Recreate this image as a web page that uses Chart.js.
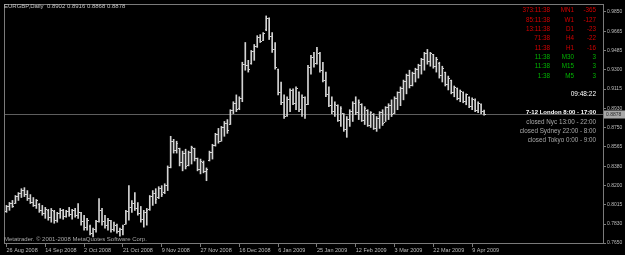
<!DOCTYPE html>
<html><head><meta charset="utf-8">
<script src="https://cdn.jsdelivr.net/npm/chart.js@4.4.1/dist/chart.umd.min.js"></script>
<style>html,body{margin:0;padding:0;background:#000;overflow:hidden}canvas{display:block}</style>
</head><body>
<canvas id="c" width="625" height="255"></canvas>
<script>
const symbolTitle = 'EURGBP,Daily  0.8902 0.8916 0.8868 0.8878';
const copyrightText = 'Metatrader. \u00a9 2001-2008 MetaQuotes Software Corp.';
const xTickLabels = ['26 Aug 2008','14 Sep 2008','2 Oct 2008','21 Oct 2008','9 Nov 2008','27 Nov 2008','16 Dec 2008','6 Jan 2009','25 Jan 2009','12 Feb 2009','3 Mar 2009','22 Mar 2009','9 Apr 2009'];
const barsPerXTick = 13;
const yTickValues = [0.9850,0.9665,0.9485,0.9300,0.9115,0.8930,0.8750,0.8565,0.8380,0.8200,0.8015,0.7830,0.7650];

const highs = [
0.8008,0.8036,0.8055,0.8102,0.8130,0.8167,0.8177,0.8149,0.8111,0.8083,
0.8064,0.8026,0.8008,0.7989,0.7970,0.7979,0.7961,0.7942,0.7979,0.7970,
0.7961,0.7989,0.7970,0.7979,0.8026,0.7942,0.7914,0.7885,0.7820,0.7791,
0.7867,0.8073,0.7979,0.7914,0.7885,0.7867,0.7848,0.7829,0.7791,0.7820,
0.7961,0.8196,0.8055,0.8130,0.8036,0.7998,0.7961,0.7979,0.8102,0.8149,
0.8167,0.8186,0.8196,0.8214,0.8384,0.8666,0.8637,0.8619,0.8553,0.8525,
0.8543,0.8525,0.8572,0.8553,0.8459,0.8449,0.8431,0.8365,0.8525,0.8590,
0.8694,0.8741,0.8760,0.8807,0.8825,0.8919,0.8995,0.9060,0.9042,0.9371,
0.9559,0.9389,0.9483,0.9540,0.9624,0.9634,0.9653,0.9812,0.9794,0.9653,
0.9559,0.9305,0.9183,0.9060,0.9042,0.9117,0.9117,0.9136,0.9089,0.9060,
0.9042,0.9342,0.9436,0.9465,0.9512,0.9465,0.9371,0.9277,0.9136,0.9042,
0.8995,0.8966,0.8948,0.8882,0.8854,0.8919,0.8995,0.9042,0.9013,0.8976,
0.8948,0.8919,0.8901,0.8882,0.8854,0.8901,0.8919,0.8948,0.8976,0.9013,
0.9042,0.9089,0.9136,0.9201,0.9258,0.9295,0.9277,0.9314,0.9352,0.9408,
0.9465,0.9493,0.9465,0.9446,0.9418,0.9371,0.9333,0.9277,0.9239,0.9201,
0.9145,0.9126,0.9107,0.9089,0.9070,0.9042,0.9032,0.9023,0.8995,0.8976,
0.8916];
const lows = [
0.7942,0.7961,0.7989,0.8026,0.8055,0.8083,0.8092,0.8055,0.8026,0.7998,
0.7979,0.7942,0.7914,0.7885,0.7867,0.7848,0.7838,0.7848,0.7885,0.7876,
0.7895,0.7904,0.7876,0.7895,0.7885,0.7820,0.7773,0.7773,0.7726,0.7707,
0.7754,0.7848,0.7820,0.7791,0.7773,0.7754,0.7763,0.7744,0.7716,0.7726,
0.7829,0.7867,0.7942,0.7961,0.7914,0.7848,0.7801,0.7820,0.7961,0.8008,
0.8026,0.8073,0.8092,0.8120,0.8149,0.8365,0.8506,0.8506,0.8384,0.8337,
0.8355,0.8384,0.8402,0.8431,0.8337,0.8308,0.8318,0.8243,0.8431,0.8449,
0.8572,0.8600,0.8619,0.8666,0.8694,0.8778,0.8882,0.8901,0.8919,0.8995,
0.9295,0.9277,0.9352,0.9389,0.9512,0.9559,0.9577,0.9671,0.9587,0.9465,
0.9305,0.9060,0.8966,0.8835,0.8854,0.8901,0.8966,0.8919,0.8901,0.8854,
0.8835,0.8966,0.9258,0.9324,0.9352,0.9277,0.9183,0.9042,0.8948,0.8882,
0.8854,0.8807,0.8760,0.8713,0.8656,0.8760,0.8807,0.8872,0.8825,0.8807,
0.8778,0.8760,0.8750,0.8731,0.8713,0.8741,0.8769,0.8807,0.8825,0.8854,
0.8882,0.8919,0.8957,0.9013,0.9070,0.9126,0.9145,0.9183,0.9220,0.9258,
0.9295,0.9352,0.9333,0.9314,0.9277,0.9220,0.9183,0.9145,0.9107,0.9070,
0.9042,0.9013,0.8995,0.8985,0.8966,0.8938,0.8919,0.8901,0.8891,0.8882,
0.8868];
const opens = [
0.7950,0.7995,0.8025,0.8030,0.8095,0.8120,0.8150,0.8110,0.8070,0.8040,
0.8010,0.8020,0.7960,0.7930,0.7960,0.7890,0.7950,0.7860,0.7930,0.7960,
0.7900,0.7950,0.7920,0.7960,0.7910,0.7940,0.7850,0.7800,0.7810,0.7740,
0.7780,0.7850,0.7960,0.7850,0.7820,0.7860,0.7780,0.7820,0.7760,0.7780,
0.7830,0.7950,0.7990,0.8030,0.7980,0.7930,0.7870,0.7940,0.7965,0.8090,
0.8120,0.8080,0.8170,0.8130,0.8200,0.8370,0.8620,0.8530,0.8550,0.8420,
0.8500,0.8390,0.8510,0.8550,0.8450,0.8350,0.8420,0.8330,0.8440,0.8510,
0.8580,0.8680,0.8620,0.8750,0.8790,0.8780,0.8910,0.8980,0.8930,0.9030,
0.9350,0.9340,0.9360,0.9470,0.9520,0.9610,0.9580,0.9680,0.9790,0.9620,
0.9490,0.9300,0.9080,0.8990,0.8860,0.9020,0.9100,0.8980,0.9080,0.8920,
0.9040,0.8970,0.9320,0.9420,0.9360,0.9450,0.9290,0.9200,0.9060,0.8960,
0.8900,0.8960,0.8820,0.8880,0.8730,0.8830,0.8900,0.8980,0.8890,0.8970,
0.8820,0.8910,0.8770,0.8870,0.8740,0.8840,0.8890,0.8800,0.8940,0.8960,
0.8880,0.9030,0.9080,0.9120,0.9190,0.9240,0.9150,0.9260,0.9300,0.9340,
0.9400,0.9450,0.9380,0.9440,0.9330,0.9360,0.9240,0.9270,0.9160,0.9200,
0.9080,0.9120,0.9030,0.9080,0.9000,0.9040,0.8950,0.9010,0.8910,0.8970,
0.8902];
const closes = [
0.7995,0.8025,0.8000,0.8095,0.8120,0.8150,0.8110,0.8070,0.8040,0.8010,
0.8050,0.7960,0.7930,0.7970,0.7890,0.7960,0.7860,0.7930,0.7960,0.7900,
0.7950,0.7920,0.7960,0.7910,0.7940,0.7850,0.7800,0.7860,0.7740,0.7780,
0.7850,0.7960,0.7850,0.7820,0.7860,0.7780,0.7830,0.7760,0.7780,0.7810,
0.7950,0.7990,0.8030,0.7980,0.7930,0.7870,0.7940,0.7960,0.8090,0.8120,
0.8060,0.8170,0.8110,0.8200,0.8370,0.8620,0.8530,0.8600,0.8420,0.8500,
0.8380,0.8510,0.8560,0.8450,0.8350,0.8430,0.8330,0.8350,0.8510,0.8580,
0.8680,0.8620,0.8750,0.8790,0.8720,0.8910,0.8980,0.8920,0.9030,0.9350,
0.9340,0.9300,0.9470,0.9520,0.9610,0.9570,0.9640,0.9790,0.9620,0.9490,
0.9320,0.9080,0.8990,0.8850,0.9020,0.9100,0.8980,0.9120,0.8920,0.9040,
0.8860,0.9320,0.9420,0.9350,0.9490,0.9290,0.9200,0.9060,0.8960,0.8900,
0.8970,0.8820,0.8930,0.8730,0.8830,0.8900,0.8980,0.8890,0.8990,0.8820,
0.8930,0.8770,0.8890,0.8740,0.8840,0.8890,0.8790,0.8940,0.8960,0.8870,
0.9030,0.9080,0.9120,0.9190,0.9240,0.9150,0.9260,0.9300,0.9340,0.9400,
0.9450,0.9380,0.9450,0.9330,0.9400,0.9240,0.9310,0.9160,0.9220,0.9080,
0.9130,0.9030,0.9090,0.9000,0.9060,0.8950,0.9020,0.8910,0.8980,0.8900,
0.8878];

const timerLeft  = ['373:11:38','85:11:38','13:11:38','71:38','11:38','11:38','11:38','1:38'];
const timerFrame = ['MN1','W1','D1','H4','H1','M30','M15','M5'];
const timerPips  = ['-365','-127','-23','-22','-16','3','3','3'];
const clockText = '09:48:22';
const sessionLines = ['7-12 London 8:00 - 17:00','closed Nyc 13:00 - 22:00','closed Sydney 22:00 - 8:00','closed Tokyo 0:00 - 9:00'];

const BAR = '#d4d4d4';
const FONT = '"Liberation Sans", Arial, sans-serif';
const lastIdx = closes.length - 1;
const idx = highs.map((_, i) => i);

function tickImg(side) {
  const c = document.createElement('canvas');
  c.width = 3; c.height = 1;
  const g = c.getContext('2d');
  g.fillStyle = BAR;
  g.fillRect(side === 'l' ? 0 : 2, 0, 1, 1);
  return c;
}

const overlay = {
  id: 'overlay',
  beforeDraw(chart) {
    const ctx = chart.ctx;
    ctx.save();
    ctx.fillStyle = '#000000';
    ctx.fillRect(0, 0, chart.width, chart.height);
    ctx.restore();
  },
  beforeDatasetsDraw(chart) {
    const ctx = chart.ctx, a = chart.chartArea, ys = chart.scales.y;
    ctx.save();
    ctx.strokeStyle = '#7a7a7a';
    ctx.lineWidth = 1;
    ctx.strokeRect(a.left - 0.5, a.top - 0.5, a.right - a.left + 1, a.bottom - a.top + 1);
    const by = Math.round(ys.getPixelForValue(closes[lastIdx])) + 0.5;
    ctx.strokeStyle = '#5e5e5e';
    ctx.beginPath(); ctx.moveTo(a.left, by); ctx.lineTo(a.right, by); ctx.stroke();
    ctx.restore();
  },
  afterDraw(chart) {
    const ctx = chart.ctx, a = chart.chartArea, ys = chart.scales.y;
    ctx.save();
    ctx.textBaseline = 'middle';
    ctx.font = '6px ' + FONT;
    ctx.fillStyle = '#c4c4c4';
    ctx.textAlign = 'left';
    ctx.fillText(symbolTitle, 4, 6);
    ctx.fillStyle = '#a8a8a8';
    ctx.fillText(copyrightText, 4, 239);
    ctx.font = '6.3px ' + FONT;
    ctx.textAlign = 'right';
    timerLeft.forEach((t, r) => {
      const y = 10.7 + r * 9.33;
      ctx.fillStyle = Number(timerPips[r]) < 0 ? '#d40000' : '#00b400';
      ctx.fillText(t, 550, y);
      ctx.fillText(timerFrame[r], 574, y);
      ctx.fillText(timerPips[r], 596, y);
    });
    ctx.fillStyle = '#ffffff';
    ctx.font = '6.5px ' + FONT;
    ctx.fillText(clockText, 596, 94);
    sessionLines.forEach((s, k) => {
      ctx.font = (k === 0 ? 'bold 6px ' : '6.3px ') + FONT;
      ctx.fillStyle = k === 0 ? '#ffffff' : '#a8a8a8';
      ctx.fillText(s, 596, 112.5 + k * 9.4);
    });
    const by = Math.round(ys.getPixelForValue(closes[lastIdx]));
    ctx.fillStyle = '#a8a8a8';
    ctx.fillRect(a.right + 1, by - 3.5, chart.width - a.right - 1, 8);
    ctx.fillStyle = '#2a2a2a';
    ctx.font = '5px ' + FONT;
    ctx.textAlign = 'left';
    ctx.fillText(closes[lastIdx].toFixed(4), a.right + 3, by + 0.5);
    ctx.restore();
  }
};

new Chart(document.getElementById('c'), {
  type: 'bar',
  data: {
    datasets: [
      { type: 'bar', data: idx.map(i => ({ x: i, y: [lows[i], highs[i]] })), backgroundColor: BAR, borderWidth: 0, barThickness: 1, grouped: false },
      { type: 'scatter', data: idx.map(i => ({ x: i, y: opens[i] })), pointStyle: tickImg('l'), pointRadius: 1, showLine: false },
      { type: 'scatter', data: idx.map(i => ({ x: i, y: closes[i] })), pointStyle: tickImg('r'), pointRadius: 1, showLine: false }
    ]
  },
  options: {
    responsive: false, devicePixelRatio: 1, animation: false,
    layout: { padding: { left: 2, top: 2, right: 0, bottom: 0 } },
    plugins: { legend: { display: false }, tooltip: { enabled: false } },
    events: [],
    scales: {
      x: {
        type: 'linear', offset: false, min: -0.5, max: -0.5 + 601 / 3,
        afterFit(s) { s.height = 12; s.paddingLeft = 0; s.paddingRight = 0; },
        afterBuildTicks(s) { s.ticks = xTickLabels.map((_, k) => ({ value: k * barsPerXTick })); },
        ticks: {
          callback: v => xTickLabels[Math.round(v / barsPerXTick)] ?? '',
          align: 'start', autoSkip: false, maxRotation: 0, padding: 0,
          color: '#bdbdbd', font: { family: FONT, size: 5.5 }
        },
        grid: { display: true, offset: false, drawOnChartArea: false, drawTicks: true, tickLength: 4, color: '#7a7a7a' },
        border: { display: false }
      },
      y: {
        position: 'right', min: 0.7650, max: 0.99159,
        afterFit(s) { s.width = 22; s.paddingTop = 0; s.paddingBottom = 0; },
        afterBuildTicks(s) { s.ticks = yTickValues.map(v => ({ value: v })); },
        ticks: {
          callback: v => Number(v).toFixed(4),
          autoSkip: false, padding: 1,
          color: '#bdbdbd', font: { family: FONT, size: 5 }
        },
        grid: { display: true, drawOnChartArea: false, drawTicks: true, tickLength: 3, color: '#7a7a7a' },
        border: { display: false }
      }
    }
  },
  plugins: [overlay]
});
</script>
</body></html>
